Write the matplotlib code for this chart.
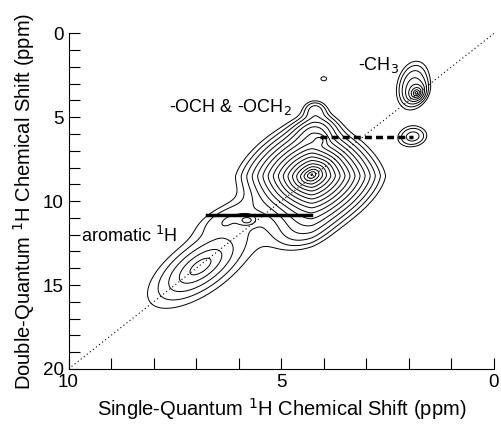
import numpy as np
import matplotlib
matplotlib.use("Agg")
import matplotlib.pyplot as plt

plt.rcParams['font.family'] = ['Liberation Sans', 'DejaVu Sans']

# peak model: centres (ppm), widths (ppm), tilt, heights,
# shape (e = exponential, g = gaussian, d = exponential with diamond outline)
peak_x = [4.28, 4.28, 4.20, 4.20, 4.08, 4.55, 6.90, 6.30, 5.80, 1.82, 1.90, 1.90, 4.00]
peak_y = [8.50, 8.40, 5.80, 4.50, 6.35, 11.8, 13.9, 11.0, 11.15, 3.55, 3.05, 6.15, 2.70]
peak_sx = [0.45, 0.16, 0.30, 0.20, 0.10, 0.45, 0.95, 0.50, 0.12, 0.10, 0.30, 0.28, 0.10]
peak_sy = [0.92, 0.30, 0.55, 0.40, 0.20, 0.90, 1.90, 0.70, 0.18, 0.25, 1.10, 0.50, 0.18]
peak_rho = [0.0, 0.5, 0.2, 0.0, 0.0, 0.3, 0.65, 0.5, 0.0, 0.2, 0.2, 0.1, 0.0]
peak_amp = [45.0, 30.0, 2.0, 1.3, 2.0, 1.0, 3.7, 0.8, 1.0, 6.0, 2.2, 1.8, 1.15]
peak_shape = ['d', 'e', 'g', 'g', 'g', 'g', 'e', 'g', 'g', 'e', 'g', 'g', 'g']

n_levels = 18
level_base = 1.0
level_step = 1.3

diag_x = [10, 0]
diag_y = [20, 0]
solid_x = [6.75, 4.29]
solid_y = [10.8, 10.8]
dash_x = [4.1, 1.9]
dash_y = [6.15, 6.15]

xs = np.linspace(0, 10, 500)
ys = np.linspace(0, 20, 700)
X, Y = np.meshgrid(xs, ys)
Z = np.zeros_like(X)
for cx, cy, sx, sy, r, a, kind in zip(peak_x, peak_y, peak_sx, peak_sy,
                                      peak_rho, peak_amp, peak_shape):
    dx = (X - cx) / sx
    dy = (Y - cy) / sy
    if kind == 'd':
        v = (dy - r * dx) / np.sqrt(1 - r**2)
        dist = (np.abs(dx)**1.5 + np.abs(v)**1.5) ** (1 / 1.5)
        Z += a * np.exp(-dist)
        continue
    Q = (dx**2 + dy**2 - 2 * r * dx * dy) / (1 - r**2)
    if kind == 'e':
        Z += a * np.exp(-np.sqrt(Q))
    else:
        Z += a * np.exp(-0.5 * Q)

levels = level_base * level_step ** np.arange(n_levels)

fig = plt.figure(figsize=(5.02, 4.28), dpi=100)
ax = fig.add_axes([0.1365, 0.138, 0.8475, 0.784])

ax.contour(X, Y, Z, levels=levels, colors='black', linewidths=0.7)
ax.plot(diag_x, diag_y, color='black', lw=0.8, ls=(0, (1, 2.5)))
ax.plot(solid_x, solid_y, color='black', lw=2.5)
ax.plot(dash_x, dash_y, color='black', lw=2.5, ls=(0, (2, 1.2)))

ax.text(7.65, 4.4, '-OCH & -OCH$_2$', fontsize=13, va='center')
ax.text(3.2, 1.9, '-CH$_3$', fontsize=13, va='center')
ax.text(9.7, 12.1, 'aromatic $^1$H', fontsize=13, va='center')

ax.set_xlim(10, 0)
ax.set_ylim(20, 0)
ax.spines['top'].set_visible(False)
ax.spines['right'].set_visible(False)
ax.set_xticks([10, 5, 0])
ax.set_yticks([0, 5, 10, 15, 20])
ax.set_xticks(np.arange(0, 11, 1), minor=True)
ax.set_yticks(np.arange(0, 21, 1), minor=True)
ax.tick_params(which='both', direction='in', length=8, width=0.8, labelsize=13.5)
ax.set_xlabel('Single-Quantum $^1$H Chemical Shift (ppm)', fontsize=14.5)
ax.set_ylabel('Double-Quantum $^1$H Chemical Shift (ppm)', fontsize=14.5)

fig.savefig('out.png', dpi=100)
